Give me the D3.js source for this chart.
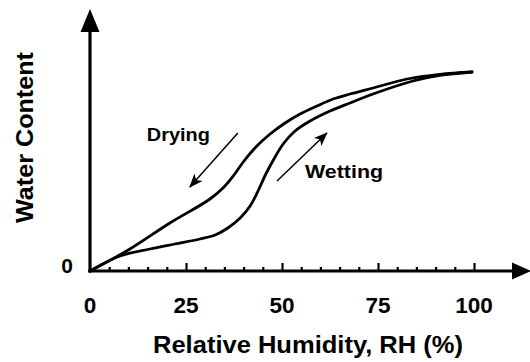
<!DOCTYPE html>
<html>
<head>
<meta charset="utf-8">
<script src="https://cdn.jsdelivr.net/npm/d3@7/dist/d3.min.js"></script>
<style>
  html, body { margin: 0; padding: 0; background: #fff; }
  svg { display: block; }
  text { font-family: "Liberation Sans", Arial, sans-serif; fill: #000; }
</style>
</head>
<body>
<svg id="chart" width="530" height="362"></svg>
<script>
// Sorption isotherm: water content vs relative humidity (hysteresis loop)
const rhDrying = [0, 10.4, 20.8, 31.25, 34.9, 37.5, 40.1, 43.2, 46.9, 50.8, 54.7, 59.1, 63.3, 67.7, 73.7, 82.6, 91.1, 99.5];
const wcDrying = [0, 11, 24, 36, 42, 48, 55, 62, 68.5, 74, 78.5, 82.5, 86, 88.5, 91.5, 96, 98.3, 99.5];

const rhWetting = [0, 7.8, 15.6, 22.1, 28.6, 32.6, 35.9, 39.1, 41.7, 43.75, 45.8, 47.9, 50.3, 53.4, 57.3, 62.5, 67.7, 73.7, 84.1, 91.1, 99.5];
const wcWetting = [0, 7.5, 11, 13.5, 16, 18, 21.5, 26.5, 32.5, 40, 48.5, 56, 63.5, 70, 75, 80, 84, 88.5, 95, 97.8, 99.5];

const xTickLabels = [0, 25, 50, 75, 100];
const xMinorTicks = d3.range(5, 100, 5).filter(d => d % 25 !== 0);
const yTickLabels = [0];

// Direction annotations: [fromRH, fromWC, toRH, toWC]
const dryingArrow = [38.5, 69, 26, 42];
const wettingArrow = [48.7, 45, 61.7, 69];
const labelNames = ["Drying", "Wetting"];
const labelPos = [[14.8, 65], [56, 46.5]];

const svg = d3.select("#chart");
const x = d3.scaleLinear().domain([0, 100]).range([90, 474]);
const y = d3.scaleLinear().domain([0, 100]).range([271, 71]);

const defs = svg.append("defs");
defs.append("marker")
  .attr("id", "barb")
  .attr("viewBox", "0 -6 14 12")
  .attr("refX", 13).attr("refY", 0)
  .attr("markerUnits", "userSpaceOnUse")
  .attr("markerWidth", 14).attr("markerHeight", 12)
  .attr("orient", "auto")
  .append("path")
  .attr("d", "M0,-5.5 L14,0 L0,5.5 L3.5,0 Z")
  .attr("fill", "#000");

// Axes with arrow heads
const axisColor = "#000";
svg.append("line")
  .attr("x1", x(0)).attr("y1", y(0) + 1.5)
  .attr("x2", x(0)).attr("y2", 28)
  .attr("stroke", axisColor).attr("stroke-width", 3.2);
svg.append("path")
  .attr("d", `M${x(0)},9 L${x(0) - 9.5},32 L${x(0) + 9.5},32 Z`)
  .attr("fill", axisColor);

svg.append("line")
  .attr("x1", x(0) - 1.5).attr("y1", y(0))
  .attr("x2", 515).attr("y2", y(0))
  .attr("stroke", axisColor).attr("stroke-width", 3.2);
svg.append("path")
  .attr("d", `M531,${y(0)} L512,${y(0) - 8.5} L512,${y(0) + 8.5} Z`)
  .attr("fill", axisColor);

// Ticks pointing inward
const xAxisMajor = d3.axisTop(x).tickValues(xTickLabels.filter(d => d > 0)).tickSize(8).tickFormat("");
const gMaj = svg.append("g").attr("transform", `translate(0,${y(0)})`).call(xAxisMajor);
gMaj.select(".domain").remove();
gMaj.selectAll("line").attr("stroke", "#000").attr("stroke-width", 2.2);

const xAxisMinor = d3.axisTop(x).tickValues(xMinorTicks).tickSize(4).tickFormat("");
const gMin = svg.append("g").attr("transform", `translate(0,${y(0)})`).call(xAxisMinor);
gMin.select(".domain").remove();
gMin.selectAll("line").attr("stroke", "#000").attr("stroke-width", 2.2);

// Tick labels
svg.append("g").selectAll("text")
  .data(xTickLabels).join("text")
  .attr("x", d => x(d))
  .attr("y", 313)
  .attr("text-anchor", "middle")
  .attr("font-size", 22.5)
  .style("font-weight", "bold")
  .text(d => d);

svg.append("g").selectAll("text")
  .data(yTickLabels).join("text")
  .attr("x", 67)
  .attr("y", y(0) + 2)
  .attr("text-anchor", "middle")
  .attr("font-size", 21)
  .style("font-weight", "bold")
  .text(d => d);

// Axis titles
svg.append("text")
  .attr("x", 308).attr("y", 353)
  .attr("text-anchor", "middle")
  .attr("font-size", 24)
  .attr("textLength", 310).attr("lengthAdjust", "spacingAndGlyphs")
  .style("font-weight", "bold")
  .text("Relative Humidity, RH (%)");

svg.append("text")
  .attr("transform", "translate(33,137.5) rotate(-90)")
  .attr("text-anchor", "middle")
  .attr("font-size", 24)
  .attr("textLength", 171).attr("lengthAdjust", "spacingAndGlyphs")
  .style("font-weight", "bold")
  .text("Water Content");

// Hysteresis curves
const line = d3.line()
  .x(d => x(d[0]))
  .y(d => y(d[1]))
  .curve(d3.curveCatmullRom.alpha(0.5));

svg.append("path")
  .datum(d3.zip(rhDrying, wcDrying))
  .attr("d", line)
  .attr("fill", "none").attr("stroke", "#000")
  .attr("stroke-width", 2.8).attr("stroke-linejoin", "round").attr("stroke-linecap", "round");

svg.append("path")
  .datum(d3.zip(rhWetting, wcWetting))
  .attr("d", line)
  .attr("fill", "none").attr("stroke", "#000")
  .attr("stroke-width", 2.8).attr("stroke-linejoin", "round").attr("stroke-linecap", "round");

// Direction arrows
[dryingArrow, wettingArrow].forEach(a => {
  svg.append("line")
    .attr("x1", x(a[0])).attr("y1", y(a[1]))
    .attr("x2", x(a[2])).attr("y2", y(a[3]))
    .attr("stroke", "#000").attr("stroke-width", 1.5)
    .attr("marker-end", "url(#barb)");
});

svg.append("g").selectAll("text")
  .data(labelNames).join("text")
  .attr("x", (d, i) => x(labelPos[i][0]))
  .attr("y", (d, i) => y(labelPos[i][1]))
  .attr("font-size", 19)
  .attr("textLength", (d, i) => i === 0 ? 63 : 78)
  .attr("lengthAdjust", "spacingAndGlyphs")
  .style("font-weight", "bold")
  .text(d => d);
</script>
</body>
</html>
